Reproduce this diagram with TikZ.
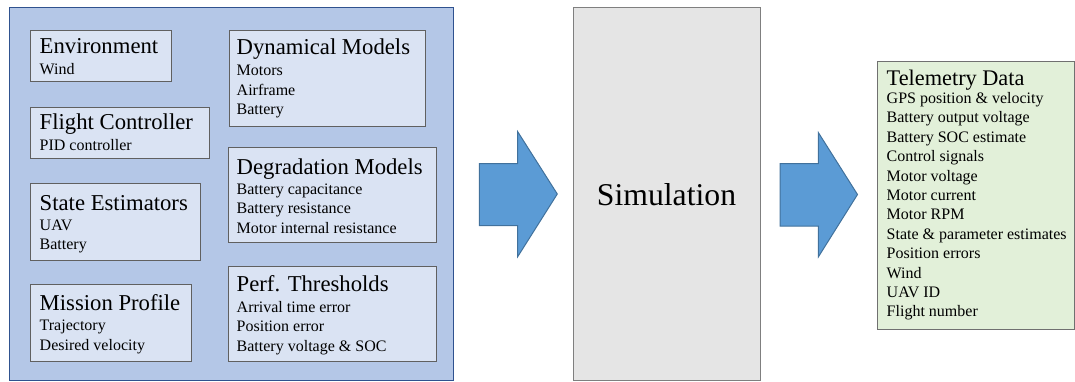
\documentclass[tikz,border=0pt]{standalone}
\usepackage{fontspec}
\setmainfont{Liberation Serif}
\definecolor{panelfill}{HTML}{B4C7E7}
\definecolor{paneldraw}{HTML}{2F528F}
\definecolor{cardfill}{HTML}{DAE3F3}
\definecolor{carddraw}{HTML}{606060}
\definecolor{simfill}{HTML}{E5E5E5}
\definecolor{simdraw}{HTML}{7F7F7F}
\definecolor{arrowfill}{HTML}{5B9BD5}
\definecolor{arrowdraw}{HTML}{41719C}
\definecolor{telefill}{HTML}{E2F0D9}
\definecolor{teledraw}{HTML}{707070}
\tikzset{
  panel/.style={draw=paneldraw, fill=panelfill, line width=1.2pt, rectangle, inner sep=0pt, anchor=north west},
  card/.style={draw=carddraw, fill=cardfill, line width=1.2pt, rectangle, inner sep=0pt, anchor=north west},
  simbox/.style={draw=simdraw, fill=simfill, line width=1pt, rectangle, inner sep=0pt, anchor=north west},
  telebox/.style={draw=teledraw, fill=telefill, line width=1.2pt, rectangle, inner sep=0pt, anchor=north west},
  ttl/.style={inner sep=0pt, anchor=base west, font=\fontsize{22.7}{27}\selectfont},
  sub/.style={inner sep=0pt, anchor=base west, font=\fontsize{16}{19}\selectfont},
  blockarrow/.style={draw=arrowdraw, fill=arrowfill, line width=1pt, line join=miter},
}
% #1 name prefix, #2 x, #3 first baseline, #4 line pitch, #5 lines
\newcommand\itemlines[5]{%
  \foreach \txt [count=\k from 0] in {#5}{%
    \node[sub] (#1-\k) at ({#2},{#3+#4*\k}) {\txt};}}
\begin{document}
\begin{tikzpicture}[x=1pt,y=-1pt]
\useasboundingbox (0,0) rectangle (1075,381);

% input panel
\node[panel, minimum width=444pt, minimum height=372.5pt] (inputs) at (9,7) {};

\node[card, minimum width=141pt, minimum height=51pt] (env) at (30,30) {};
\node[ttl] (envT) at (39.5,53.3) {Environment};
\itemlines{envL}{39.5}{74.3}{19.5}{Wind}

\node[card, minimum width=179pt, minimum height=51pt] (fc) at (30,107) {};
\node[ttl] (fcT) at (39.5,129.3) {Flight Controller};
\itemlines{fcL}{39.5}{150.3}{19.5}{PID controller}

\node[card, minimum width=170pt, minimum height=77pt] (se) at (30,183) {};
\node[ttl] (seT) at (39.5,210) {State Estimators};
\itemlines{seL}{39.5}{230.7}{19}{UAV,Battery}

\node[card, minimum width=161pt, minimum height=77pt] (mp) at (30,284) {};
\node[ttl] (mpT) at (39.5,310) {Mission Profile};
\itemlines{mpL}{39.5}{330.5}{19.7}{Trajectory,Desired velocity}

\node[card, minimum width=196pt, minimum height=96pt] (dm) at (229,30) {};
\node[ttl] (dmT) at (236.5,54.5) {Dynamical Models};
\itemlines{dmL}{236.5}{75.7}{19.3}{Motors,Airframe,Battery}

\node[card, minimum width=208pt, minimum height=95pt] (dg) at (228,147) {};
\node[ttl] (dgT) at (236.5,174) {Degradation Models};
\itemlines{dgL}{236.5}{194}{19.5}{Battery capacitance,Battery resistance,Motor internal resistance}

\node[card, minimum width=208pt, minimum height=95pt] (pt) at (228,266) {};
\node[ttl] (ptT) at (236.5,291.7) {Perf. Thresholds};
\itemlines{ptL}{236.5}{312}{19.8}{Arrival time error,Position error,Battery voltage \& SOC}

% simulation block
\node[simbox, minimum width=187pt, minimum height=373pt] (sim) at (573,7) {};
\node[inner sep=0pt, anchor=base, font=\fontsize{31.7}{38}\selectfont] (simT) at (666.5,205) {Simulation};

% output block
\node[telebox, minimum width=197pt, minimum height=268pt] (tele) at (877,61) {};
\node[ttl, font=\fontsize{22.3}{27}\selectfont] (teleT) at (886.5,85.3) {Telemetry Data};
\itemlines{teleL}{886.5}{103.5}{19.4}{GPS position \& velocity,Battery output voltage,Battery SOC estimate,Control signals,Motor voltage,Motor current,Motor RPM,State \& parameter estimates,Position errors,Wind,UAV ID,Flight number}

% block arrows
\draw[blockarrow] (479.3,163.5) -- (517.7,163.5) -- (517.7,131.7) -- (557.3,194)
  -- (517.7,256.7) -- (517.7,225.5) -- (479.3,225.5) -- cycle;
\draw[blockarrow] (780,163.5) -- (818.3,163.5) -- (818.3,132.5) -- (857.5,194.5)
  -- (818.3,257) -- (818.3,226) -- (780,226) -- cycle;
\end{tikzpicture}
\end{document}
